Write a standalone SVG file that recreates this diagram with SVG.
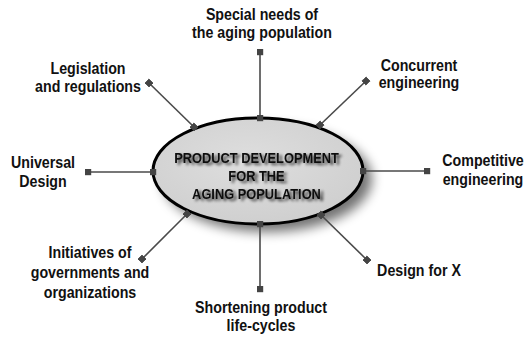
<svg xmlns="http://www.w3.org/2000/svg" width="526" height="339" viewBox="0 0 526 339">
  <defs>
    <radialGradient id="hubFill" cx="0.45" cy="0.4" r="0.7">
      <stop offset="0" stop-color="#dedede"/>
      <stop offset="1" stop-color="#cdcdcd"/>
    </radialGradient>
    <filter id="softShadow" x="-30%" y="-30%" width="160%" height="160%">
      <feGaussianBlur stdDeviation="6"/>
    </filter>
    <!-- blurred drop shadow behind the hub title -->
    <filter id="textShadow" x="-10%" y="-30%" width="125%" height="170%">
      <feGaussianBlur in="SourceAlpha" stdDeviation="1.4" result="blur"/>
      <feOffset in="blur" dx="2.5" dy="2" result="off"/>
      <feComponentTransfer in="off" result="shade">
        <feFuncA type="linear" slope="0.75"/>
      </feComponentTransfer>
      <feMerge>
        <feMergeNode in="shade"/>
        <feMergeNode in="SourceGraphic"/>
      </feMerge>
    </filter>
    <marker id="sq" viewBox="-3.5 -3.5 7 7" markerUnits="userSpaceOnUse" markerWidth="7" markerHeight="7" refX="0" refY="0" orient="auto">
      <rect x="-3.2" y="-3.2" width="6.4" height="6.4" fill="#444"/>
    </marker>
  </defs>
  <style>
    .lbl { font-family: "Liberation Sans", Arial, sans-serif; font-weight: bold; font-size: 16px; fill: #111; text-anchor: middle; }
    .hub { font-family: "Liberation Sans", Arial, sans-serif; font-weight: bold; font-size: 14.5px; text-anchor: middle; fill: #111; }
    .conn { stroke: #4a4a4a; stroke-width: 1.6; fill: none; marker-start: url(#sq); marker-end: url(#sq); }
  </style>

  <!-- central hub -->
  <g id="hub">
    <ellipse cx="267" cy="179" rx="105" ry="53" fill="#000" opacity="0.55" filter="url(#softShadow)"/>
    <ellipse cx="258" cy="171" rx="105" ry="53" fill="url(#hubFill)" stroke="#000" stroke-width="3"/>
    <g filter="url(#textShadow)">
      <g transform="translate(256.5,0) scale(0.885,1)">
        <text class="hub" x="0" y="163">PRODUCT DEVELOPMENT</text>
        <text class="hub" x="0" y="181">FOR THE</text>
        <text class="hub" x="0" y="199">AGING POPULATION</text>
      </g>
    </g>
  </g>

  <!-- spokes from the hub to each topic -->
  <g id="connectors">
    <line class="conn" x1="260" y1="118" x2="260" y2="52"/>
    <line class="conn" x1="320" y1="125" x2="366" y2="81"/>
    <line class="conn" x1="363" y1="171" x2="427" y2="171"/>
    <line class="conn" x1="321" y1="215" x2="367" y2="260"/>
    <line class="conn" x1="260" y1="224" x2="260" y2="289"/>
    <line class="conn" x1="187" y1="214" x2="142" y2="259"/>
    <line class="conn" x1="153" y1="172" x2="88" y2="172"/>
    <line class="conn" x1="194" y1="127" x2="149" y2="83"/>
  </g>

  <!-- topic labels -->
  <g id="special-needs" transform="translate(262,0) scale(0.89,1)">
    <text class="lbl" x="0" y="20">Special needs of</text>
    <text class="lbl" x="0" y="38">the aging population</text>
  </g>
  <g id="concurrent" transform="translate(419,0) scale(0.89,1)">
    <text class="lbl" x="0" y="71">Concurrent</text>
    <text class="lbl" x="0" y="88">engineering</text>
  </g>
  <g id="competitive" transform="translate(483,0) scale(0.89,1)">
    <text class="lbl" x="0" y="166">Competitive</text>
    <text class="lbl" x="0" y="185">engineering</text>
  </g>
  <g id="design-for-x" transform="translate(419,0) scale(0.89,1)">
    <text class="lbl" x="0" y="276">Design for X</text>
  </g>
  <g id="shortening" transform="translate(261,0) scale(0.89,1)">
    <text class="lbl" x="0" y="313">Shortening product</text>
    <text class="lbl" x="0" y="331">life-cycles</text>
  </g>
  <g id="initiatives" transform="translate(90,0) scale(0.89,1)">
    <text class="lbl" x="0" y="258">Initiatives of</text>
    <text class="lbl" x="0" y="278">governments and</text>
    <text class="lbl" x="0" y="298">organizations</text>
  </g>
  <g id="universal-design" transform="translate(43,0) scale(0.89,1)">
    <text class="lbl" x="0" y="168">Universal</text>
    <text class="lbl" x="0" y="187">Design</text>
  </g>
  <g id="legislation" transform="translate(88,0) scale(0.89,1)">
    <text class="lbl" x="0" y="74">Legislation</text>
    <text class="lbl" x="0" y="92">and regulations</text>
  </g>
</svg>
